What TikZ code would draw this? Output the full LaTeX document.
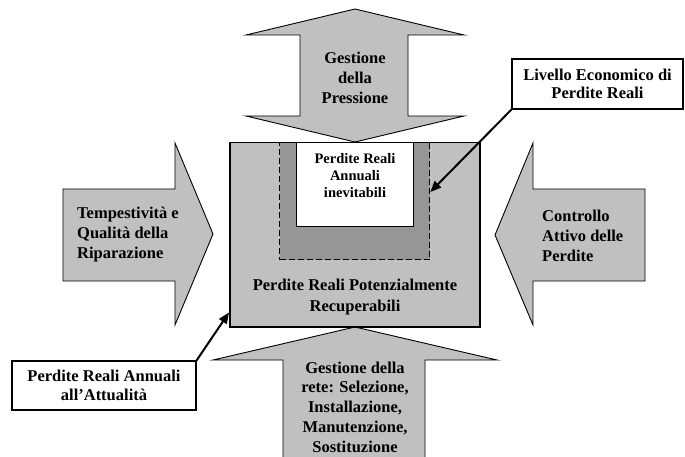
\documentclass[tikz,border=0pt]{standalone}
\usepackage{fontspec}
\setmainfont{Liberation Serif}
\usetikzlibrary{arrows.meta}
\definecolor{lightgr}{RGB}{192,192,192}
\definecolor{darkgr}{RGB}{150,150,150}
\begin{document}
\begin{tikzpicture}[x=1pt,y=-1pt,
  bigarrow/.style={draw,fill=lightgr,line width=0.9pt,line join=miter},
  txt/.style={font=\bfseries\fontsize{16.5}{20}\selectfont,inner sep=0pt},
  ctxt/.style={txt,align=center},
  ltxt/.style={txt,align=left,anchor=west},
  tag/.style={draw,fill=white,line width=1.2pt,align=center,inner sep=0pt,font=\bfseries\fontsize{16.5}{18.5}\selectfont},
  conn/.style={-{Triangle[length=11pt,width=9pt]},line width=2pt}]
\clip (0,0) rectangle (685,457);
\draw[bigarrow] (355,9) -- (464,35) -- (408,35) -- (408,116) -- (464,116) -- (355,142)
  -- (246,116) -- (300,116) -- (300,35) -- (246,35) -- cycle;
\draw[bigarrow] (63,189) -- (175,189) -- (175,143) -- (213,234) -- (175,325) -- (175,281) -- (63,281) -- cycle;
\draw[bigarrow] (645,189) -- (533,189) -- (533,143) -- (495,235) -- (533,325) -- (533,281) -- (645,281) -- cycle;
\draw[bigarrow] (283,470) -- (283,360) -- (213,360) -- (355,327) -- (497,360) -- (425,360) -- (425,470);
\node[draw,fill=lightgr,line width=1.5pt,minimum width=250,minimum height=184,anchor=north west] (main) at (229,142) {};
\node[draw,dash pattern=on 6pt off 3pt,fill=darkgr,line width=1.3pt,minimum width=150,minimum height=117,anchor=north west] (dash) at (279,142) {};
\node[draw,fill=white,line width=1.3pt,minimum width=117,minimum height=84,anchor=north west] (inev) at (296,142) {};
\node[ctxt] (press) at (355,78) {Gestione\\della\\Pressione};
\node[ctxt,font=\bfseries\fontsize{14.5}{17}\selectfont] (inevtxt) at (355,176) {Perdite Reali\\Annuali\\inevitabili};
\node[ctxt,font=\bfseries\fontsize{16.5}{21}\selectfont] (recup) at (355,297) {Perdite Reali Potenzialmente\\Recuperabili};
\node[ltxt] (ripar) at (77,235) {Tempestività e\\Qualità della\\Riparazione};
\node[ltxt] (contr) at (542,236) {Controllo\\Attivo delle\\Perdite};
\node[ctxt,font=\bfseries\fontsize{16.5}{19.7}\selectfont] (rete) at (355,407) {Gestione della\\rete: Selezione,\\Installazione,\\Manutenzione,\\Sostituzione};
\node[tag,minimum width=184,minimum height=49] (attual) at (104,385.5) {Perdite Reali Annuali\\all’Attualità};
\node[tag,minimum width=171,minimum height=50] (livello) at (597.5,84) {Livello Economico di\\Perdite Reali};
\draw[conn] (attual.north east) -- ([yshift=15pt]main.south west);
\draw[conn] (livello.south west) -- ([yshift=-50pt]dash.north east);
\end{tikzpicture}
\end{document}
